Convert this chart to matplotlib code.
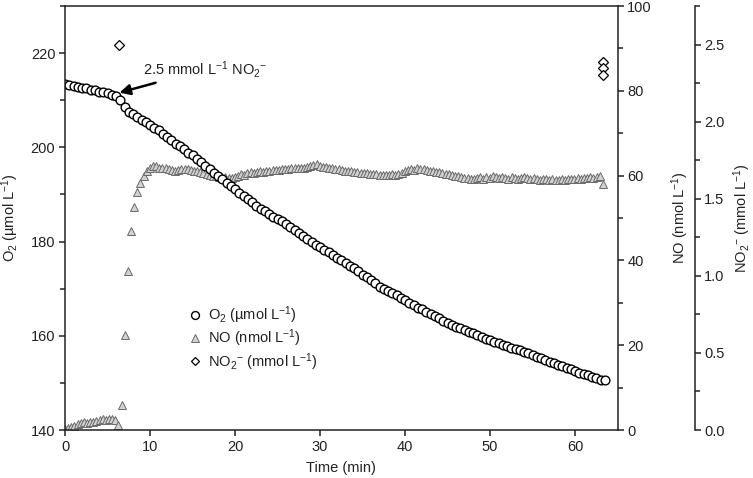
import numpy as np
import matplotlib
matplotlib.use("Agg")
import matplotlib.pyplot as plt
from matplotlib.ticker import MultipleLocator, FormatStrFormatter

plt.rcParams['font.family'] = ['Liberation Sans', 'DejaVu Sans']
plt.rcParams['mathtext.fontset'] = 'custom'
plt.rcParams['mathtext.rm'] = 'Liberation Sans'
plt.rcParams['mathtext.it'] = 'Liberation Sans:italic'
plt.rcParams['mathtext.bf'] = 'Liberation Sans:bold'

# O2 trace (umol/L), sampled every 0.5 min
t_o2 = np.arange(0, 64, 0.5)
o2 = [213.5, 213.2, 213.0, 212.9, 212.6, 212.5, 212.2, 212.1, 211.8, 211.7,
      211.5, 211.2, 211.0, 210.0, 208.5, 207.6, 207.0, 206.5, 205.9, 205.3,
      204.7, 204.2, 203.6, 202.8, 202.1, 201.5, 200.8, 200.3, 199.6, 198.9,
      198.3, 197.5, 196.8, 196.1, 195.3, 194.6, 193.9, 193.2, 192.5, 191.8,
      191.1, 190.4, 189.7, 189.0, 188.3, 187.6, 187.0, 186.4, 185.9, 185.3,
      184.8, 184.3, 183.8, 183.1, 182.5, 181.8, 181.1, 180.5, 179.9, 179.3,
      178.8, 178.2, 177.7, 177.1, 176.6, 176.0, 175.4, 174.9, 174.3, 173.7,
      173.0, 172.4, 171.8, 171.1, 170.4, 170.0, 169.4, 169.0, 168.6, 168.1,
      167.6, 167.0, 166.5, 166.0, 165.6, 165.1, 164.6, 164.1, 163.7, 163.2,
      162.8, 162.3, 161.9, 161.6, 161.2, 160.9, 160.5, 160.1, 159.7, 159.3,
      159.0, 158.7, 158.4, 158.1, 157.8, 157.5, 157.2, 156.9, 156.6, 156.3,
      155.9, 155.5, 155.2, 154.8, 154.5, 154.2, 153.9, 153.5, 153.2, 152.9,
      152.5, 152.2, 151.9, 151.6, 151.2, 151.0, 150.7, 150.6]

# NO trace (nmol/L), sampled every 0.37 min
t_no = np.arange(172) * 0.37
no = [0.3, 0.5, 0.8, 1.0, 1.3, 1.6, 1.8, 1.7, 1.9, 2.0,
      2.1, 2.3, 2.5, 2.4, 2.6, 2.5, 2.3, 1.2, 6.0, 22.5,
      37.4, 46.9, 52.6, 56.2, 58.3, 59.9, 61.0, 61.8, 62.3, 62.2,
      61.9, 61.7, 61.8, 61.5, 61.3, 61.2, 61.4, 61.6, 61.5, 61.6,
      61.4, 61.2, 61.0, 60.8, 60.7, 60.4, 60.2, 60.0, 59.8, 59.7,
      59.5, 59.6, 59.4, 59.5, 59.7, 59.9, 60.3, 60.1, 60.5, 60.8,
      60.6, 60.9, 61.0, 60.8, 61.1, 61.2, 61.3, 61.4, 61.3, 61.5,
      61.6, 61.5, 61.7, 61.8, 61.7, 61.9, 61.8, 62.0, 62.2, 62.6,
      62.8, 62.3, 62.1, 62.0, 61.8, 61.7, 61.6, 61.5, 61.3, 61.2,
      61.1, 61.0, 60.9, 60.8, 60.7, 60.6, 60.5, 60.4, 60.3, 60.3,
      60.2, 60.2, 60.1, 60.2, 60.3, 60.2, 60.4, 60.6, 61.0, 61.3,
      61.6, 61.4, 61.7, 61.5, 61.6, 61.4, 61.2, 61.1, 60.9, 60.8,
      60.6, 60.4, 60.3, 60.1, 60.0, 59.8, 59.7, 59.5, 59.4, 59.3,
      59.2, 59.4, 59.6, 59.3, 59.7, 59.5, 59.8, 59.6, 59.4, 59.7,
      59.5, 59.3, 59.6, 59.4, 59.2, 59.5, 59.7, 59.4, 59.3, 59.5,
      59.2, 59.0, 59.3, 59.1, 59.0, 59.2, 59.0, 58.9, 59.1, 59.0,
      59.2, 59.1, 59.3, 59.4, 59.2, 59.4, 59.5, 59.6, 59.4, 59.7,
      59.8, 58.0]

# NO2- (mmol/L)
t_no2 = [6.4, 63.3, 63.3, 63.3]
no2 = [2.50, 2.39, 2.35, 2.30]

dark = '#222222'
fs = 10.5
nitrite = 'NO$_2$$^{-}$'

fig = plt.figure(figsize=(7.53, 4.78), dpi=100)
ax = fig.add_axes([65 / 753, 48 / 478, 552.5 / 753, 424 / 478])
ax2 = ax.twinx()
ax3 = ax.twinx()

# stacking: diamonds at the back, circles in front
ax3.set_zorder(1)
ax2.set_zorder(2)
ax.set_zorder(3)
ax.patch.set_visible(False)
ax2.patch.set_visible(False)

h3, = ax3.plot(t_no2, no2, linestyle='none', marker='D', ms=5, mfc='white',
               mec='black', mew=0.9, label=nitrite + ' (mmol L$^{-1}$)')
h2, = ax2.plot(t_no, no, linestyle='none', marker='^', ms=6.2, mfc='#d2d2d2',
               mec='#6a6a6a', mew=0.7, label='NO (nmol L$^{-1}$)')
h1, = ax.plot(t_o2, o2, linestyle='none', marker='o', ms=6.3, mfc='white',
              mec='black', mew=1.0, label='O$_2$ (µmol L$^{-1}$)')

ax.set_xlim(0, 65)
ax.set_ylim(140, 230)
ax2.set_ylim(0, 100)
ax3.set_ylim(0, 2.75)

ax.xaxis.set_major_locator(MultipleLocator(10))
ax.set_yticks(np.arange(140, 221, 20))
ax.set_yticks(np.arange(150, 231, 20), minor=True)
ax2.yaxis.set_major_locator(MultipleLocator(20))
ax2.yaxis.set_minor_locator(MultipleLocator(10))
ax3.set_yticks(np.arange(0, 2.51, 0.5))
ax3.set_yticks(np.arange(0.25, 2.76, 0.5), minor=True)
ax3.yaxis.set_major_formatter(FormatStrFormatter('%.1f'))

ax3.spines['right'].set_position(('axes', (694.5 - 65) / 552.5))
for s in ['top', 'left', 'bottom']:
    ax3.spines[s].set_visible(False)
for s in ['left', 'bottom', 'top']:
    ax2.spines[s].set_visible(False)
ax.spines['right'].set_visible(False)

for a in (ax, ax2, ax3):
    for s in a.spines.values():
        s.set_linewidth(1.1)
        s.set_color(dark)
    a.tick_params(which='major', direction='out', length=4, width=1.1,
                  colors=dark, labelsize=fs, pad=3)
    a.tick_params(which='minor', direction='out', length=3.5, width=1.1,
                  colors=dark)

ax.set_xlabel('Time (min)', fontsize=fs, color=dark, labelpad=5)
ax.set_ylabel('O$_2$ (µmol L$^{-1}$)', fontsize=fs, color=dark)
ax2.set_ylabel('NO (nmol L$^{-1}$)', fontsize=fs, color=dark)
ax3.set_ylabel(nitrite + ' (mmol L$^{-1}$)', fontsize=fs, color=dark)
ax.yaxis.set_label_coords(-0.08, 0.5)
ax2.yaxis.set_label_coords(1.094, 0.5)
ax3.yaxis.set_label_coords(1.207, 0.5)

ax.annotate('2.5 mmol L$^{-1}$ ' + nitrite, xy=(6.4, 211.6), xytext=(9.2, 216.6),
            fontsize=fs, color=dark, va='center', ha='left',
            arrowprops=dict(arrowstyle='-|>,head_length=0.6,head_width=0.3',
                            color='black', lw=1.8, shrinkA=1, shrinkB=0))

leg = ax.legend(handles=[h1, h2, h3], loc='upper left',
                bbox_to_anchor=(180 / 753, 1 - 294 / 478),
                bbox_transform=fig.transFigure, frameon=False, fontsize=fs,
                handlelength=0.7, handletextpad=0.5, labelspacing=0.12,
                markerscale=0.9, borderpad=0.2)
for txt in leg.get_texts():
    txt.set_color(dark)

fig.savefig('out.png', dpi=100)
